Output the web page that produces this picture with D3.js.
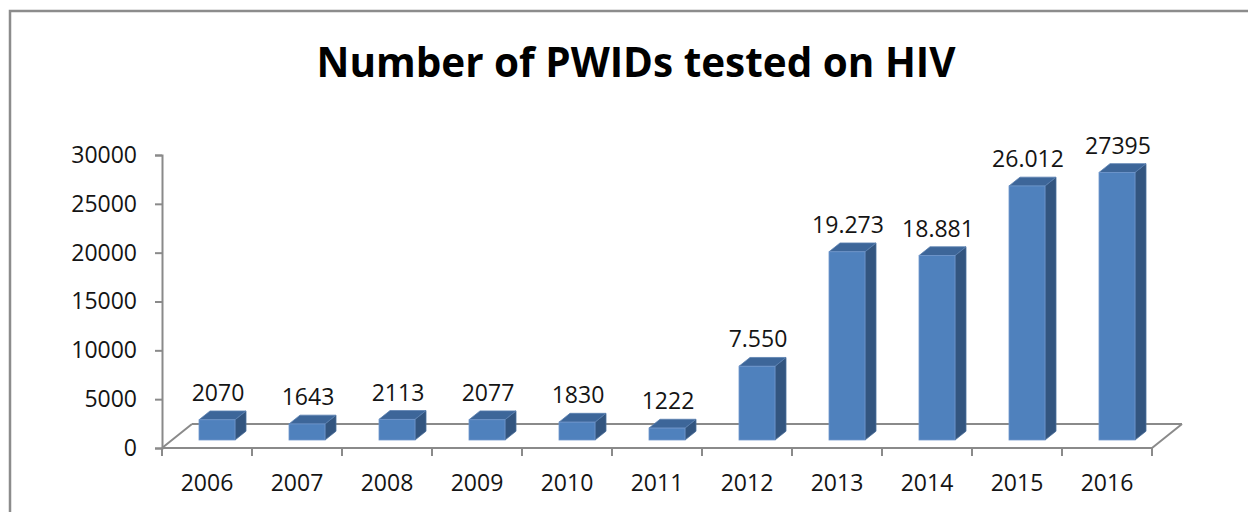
<!DOCTYPE html>
<html>
<head>
<meta charset="utf-8">
<script src="https://cdn.jsdelivr.net/npm/d3@7"></script>
<style>
  html, body { margin: 0; padding: 0; background: #fff; }
  svg { display: block; }
  text { font-family: "Open Sans", "Noto Sans", sans-serif; }
</style>
</head>
<body>
<svg id="chart" width="1248" height="512"></svg>
<script>
// Data
const years = ["2006", "2007", "2008", "2009", "2010", "2011", "2012", "2013", "2014", "2015", "2016"];
const tested = [2070, 1643, 2113, 2077, 1830, 1222, 7550, 19273, 18881, 26012, 27395];
const valueLabels = ["2070", "1643", "2113", "2077", "1830", "1222", "7.550", "19.273", "18.881", "26.012", "27395"];
const yTicks = [0, 5000, 10000, 15000, 20000, 25000, 30000];
const titleText = "Number of PWIDs tested on HIV";

const svg = d3.select("#chart");

// Plot geometry (front plane of the 3D floor)
const plotLeft = 162, plotRight = 1152, plotBottom = 448, plotTop = 155;
const depthX = 30, depthY = 24;           // full floor depth offset
const barFront = 1 / 3, barBack = 0.70;   // bar position inside the depth

const x = d3.scaleBand().domain(years).range([plotLeft, plotRight]).padding(0);
const y = d3.scaleLinear().domain([0, 30000]).range([plotBottom, plotTop]);

const axisColor = "#8a8a8a";
const textColor = "#141414";

// Outer chart frame
svg.append("rect")
  .attr("x", 10).attr("y", 11)
  .attr("width", 1260).attr("height", 520)
  .attr("fill", "none")
  .attr("stroke", "#8c8c8c")
  .attr("stroke-width", 2.5);

// Title
svg.append("text")
  .attr("x", 636).attr("y", 77)
  .attr("text-anchor", "middle")
  .attr("font-size", 41)
  .attr("font-weight", 700)
  .attr("fill", "#000")
  .attr("textLength", 639)
  .attr("lengthAdjust", "spacingAndGlyphs")
  .text(titleText);

// Floor back edge and sides (drawn behind bars)
const floor = svg.append("g").attr("stroke", axisColor).attr("stroke-width", 2).attr("fill", "none");
floor.append("line")
  .attr("x1", plotLeft + depthX).attr("y1", plotBottom - depthY)
  .attr("x2", plotRight + depthX).attr("y2", plotBottom - depthY);
floor.append("line")
  .attr("x1", plotLeft).attr("y1", plotBottom)
  .attr("x2", plotLeft + depthX).attr("y2", plotBottom - depthY);
floor.append("line")
  .attr("x1", plotRight).attr("y1", plotBottom)
  .attr("x2", plotRight + depthX).attr("y2", plotBottom - depthY);

// Y axis
const yAxis = d3.axisLeft(y).tickValues(yTicks).tickSize(7).tickPadding(18).tickFormat(d3.format("d"));
const yg = svg.append("g").attr("transform", `translate(${plotLeft},0)`).call(yAxis);
yg.select(".domain").attr("stroke", axisColor).attr("stroke-width", 2);
yg.selectAll(".tick line").attr("stroke", axisColor).attr("stroke-width", 2);
yg.selectAll(".tick text")
  .attr("font-size", 23)
  .attr("fill", textColor)
  .attr("font-family", "'Open Sans', sans-serif");

// Bars (3D columns)
const fx = depthX * barFront, fy = depthY * barFront;
const bx = depthX * barBack, by = depthY * barBack;
const bw = x.bandwidth() * 0.4;

const data = years.map((yr, i) => ({ year: yr, value: tested[i], label: valueLabels[i] }));

const bars = svg.append("g").selectAll("g.bar").data(data).join("g").attr("class", "bar");

bars.each(function (d) {
  const g = d3.select(this);
  const x0 = x(d.year) + (x.bandwidth() - bw) / 2 + fx;
  const x1 = x0 + bw;
  const yb = y(0) - fy;
  const yt = y(d.value) - fy;
  const ddx = bx - fx, ddy = by - fy;
  // side face
  g.append("path")
    .attr("d", `M${x1},${yb}L${x1 + ddx},${yb - ddy}L${x1 + ddx},${yt - ddy}L${x1},${yt}Z`)
    .attr("fill", "#33557f")
    .attr("stroke", "#4a6f9c").attr("stroke-width", 0.8);
  // top face
  g.append("path")
    .attr("d", `M${x0},${yt}L${x1},${yt}L${x1 + ddx},${yt - ddy}L${x0 + ddx},${yt - ddy}Z`)
    .attr("fill", "#3d6699")
    .attr("stroke", "#5b80b0").attr("stroke-width", 0.8);
  // front face
  g.append("rect")
    .attr("x", x0).attr("y", yt)
    .attr("width", bw).attr("height", yb - yt)
    .attr("fill", "#4f81bd")
    .attr("stroke", "#7097cc").attr("stroke-width", 0.8);
  // value label
  g.append("text")
    .attr("x", x0 + bw / 2 + 1)
    .attr("y", yt - ddy - 10)
    .attr("text-anchor", "middle")
    .attr("font-size", 23)
    .attr("fill", textColor)
    .text(d.label);
});

// Floor front edge and category axis
const xAxis = d3.axisBottom(x).tickSize(0).tickPadding(27);
const xg = svg.append("g").attr("transform", `translate(0,${plotBottom})`).call(xAxis);
xg.select(".domain").remove();
xg.selectAll(".tick text")
  .attr("font-size", 23)
  .attr("fill", textColor)
  .attr("font-family", "'Open Sans', sans-serif");

svg.append("line")
  .attr("x1", plotLeft).attr("y1", plotBottom)
  .attr("x2", plotRight).attr("y2", plotBottom)
  .attr("stroke", axisColor).attr("stroke-width", 2);

// Category boundary tick marks
const edges = years.map(yr => x(yr)).concat([plotRight]);
svg.append("g").selectAll("line").data(edges).join("line")
  .attr("x1", d => d).attr("x2", d => d)
  .attr("y1", plotBottom).attr("y2", plotBottom + 8)
  .attr("stroke", axisColor).attr("stroke-width", 2);
</script>
</body>
</html>
